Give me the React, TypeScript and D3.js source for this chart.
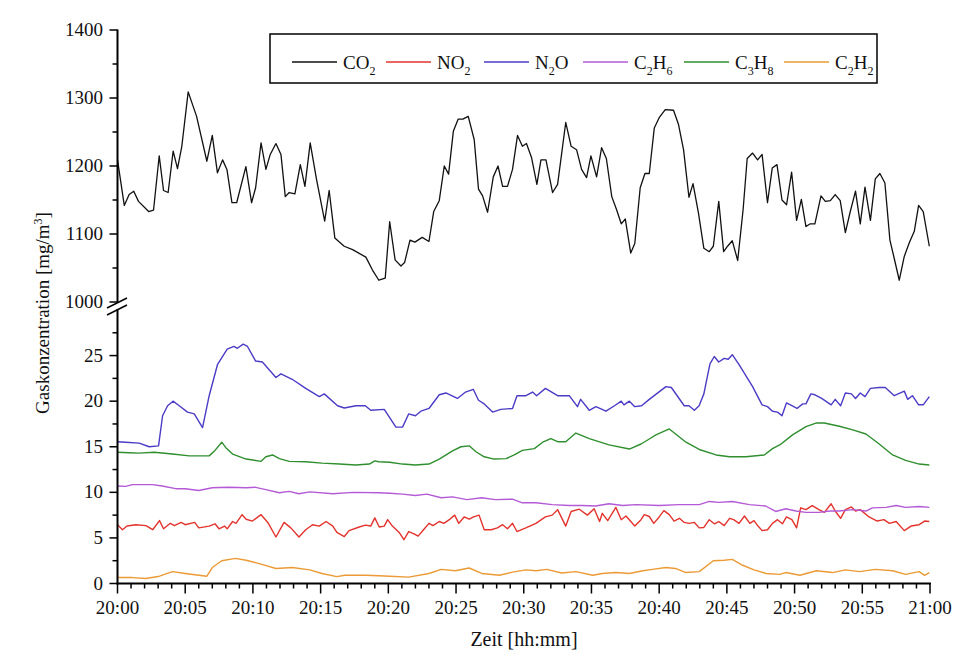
import React from "react";
import * as d3 from "d3";

// ---- Data (minutes after 20:00, concentration in mg/m³) ----
const co2T = [0,0.5,0.86,1.2,1.55,2.3,2.66,3.08,3.4,3.74,4.11,4.43,4.75,5.22,5.84,6.6,7.0,7.38,7.76,8.08,8.45,8.8,9.48,9.9,10.2,10.6,10.96,11.28,11.7,12.07,12.39,12.68,13.1,13.5,13.84,14.23,14.7,15.3,15.63,16.05,16.74,17.36,18.34,18.83,19.3,19.77,20.1,20.5,20.93,21.2,21.6,21.96,22.5,23.0,23.35,23.76,24.13,24.45,24.8,25.16,25.5,25.9,26.34,26.66,26.96,27.33,27.75,28.1,28.44,28.8,29.17,29.54,29.9,30.2,30.58,30.97,31.27,31.64,32.13,32.5,33.1,33.5,33.9,34.27,34.64,34.96,35.38,35.75,36.1,36.5,36.85,37.2,37.5,37.9,38.2,38.6,38.95,39.27,39.64,40.0,40.45,41.06,41.43,41.8,42.2,42.5,42.9,43.3,43.7,44.0,44.4,44.76,45.05,45.4,45.8,46.2,46.5,46.9,47.27,47.6,48.0,48.35,48.7,49.07,49.41,49.78,50.15,50.5,50.84,51.16,51.5,51.95,52.27,52.64,53.0,53.37,53.75,54.1,54.5,54.85,55.2,55.6,55.96,56.3,56.67,57.04,57.36,57.73,58.1,58.47,58.84,59.16,59.5,59.95];
const co2V = [1209,1142,1158,1163,1148,1133,1135,1215,1164,1161,1222,1196,1229,1309,1273,1207,1245,1190,1209,1195,1146,1146,1199,1146,1168,1234,1195,1217,1233,1217,1155,1161,1159,1202,1170,1234,1180,1119,1164,1094,1082,1077,1066,1047,1032,1035,1118,1062,1053,1058,1091,1088,1095,1089,1133,1149,1200,1188,1251,1269,1269,1273,1239,1166,1156,1132,1184,1200,1170,1170,1195,1245,1229,1233,1212,1173,1209,1209,1161,1173,1264,1229,1224,1195,1183,1215,1184,1227,1211,1155,1136,1115,1122,1072,1086,1168,1189,1189,1256,1271,1283,1282,1261,1224,1154,1174,1131,1079,1074,1082,1148,1074,1082,1090,1061,1136,1211,1219,1209,1217,1146,1197,1202,1150,1143,1191,1120,1151,1111,1115,1115,1156,1148,1149,1158,1149,1102,1132,1163,1115,1169,1120,1181,1189,1175,1091,1064,1032,1067,1087,1104,1142,1133,1082];

const no2T = [0,0.37,0.7,1.35,2.1,2.6,3.1,3.4,3.9,4.2,4.7,5.0,5.7,6.0,6.77,7.2,7.5,7.9,8.1,8.5,8.75,9.2,9.5,9.96,10.6,11.1,11.7,12.3,12.8,13.4,13.9,14.4,14.9,15.4,15.9,16.2,16.75,17.1,17.85,18.3,18.7,19.0,19.33,19.7,19.95,20.3,20.8,21.15,21.5,21.9,22.2,22.6,23.0,23.3,23.76,24.1,24.5,24.9,25.2,25.6,25.97,26.3,26.7,27.08,27.6,28.05,28.44,28.8,29.17,29.5,30.15,30.9,31.6,32.1,32.5,32.7,33.1,33.5,34.1,34.7,35.2,35.6,35.8,36.2,36.8,37.2,37.55,38.2,38.66,38.9,39.27,39.6,40.0,40.35,40.75,41.1,41.5,41.85,42.2,42.6,42.96,43.3,43.7,44.07,44.4,44.8,45.2,45.5,45.9,46.3,46.7,47.0,47.3,47.6,48.0,48.37,48.74,49.1,49.4,49.8,50.15,50.45,50.84,51.3,51.8,52.2,52.7,53.0,53.4,53.75,54.2,54.5,54.85,55.5,56.1,56.6,57.0,57.5,58.1,58.6,59.2,59.6,59.95];
const no2V = [6.45,5.9,6.3,6.45,6.35,5.9,6.9,6.0,6.6,6.35,6.7,6.45,6.7,6.1,6.3,6.55,6.0,6.3,6.0,6.8,6.6,7.55,7.05,6.85,7.55,6.7,5.1,6.7,6.1,5.1,5.9,6.45,6.3,6.8,6.3,5.6,5.15,5.8,6.2,6.4,6.3,7.2,6.2,6.3,7.0,6.3,5.6,4.8,5.7,5.45,5.2,5.9,6.6,6.35,6.8,6.6,7.0,7.5,6.6,7.3,7.05,7.3,7.5,5.9,5.9,6.1,6.45,6.0,6.6,5.7,6.1,6.6,7.3,7.5,8.1,7.5,6.3,7.9,8.15,7.5,8.2,6.8,7.7,6.9,8.35,7.0,7.4,6.3,7.0,7.55,7.35,6.6,7.3,8.0,7.55,6.85,7.15,6.7,6.6,6.7,6.1,6.15,7.0,6.55,6.8,6.35,7.15,7.0,6.6,7.4,6.6,6.9,6.3,5.8,5.9,6.6,7.0,6.55,7.3,7.0,6.1,8.3,8.1,8.55,8.1,7.8,8.75,7.95,7.15,8.1,8.4,7.95,8.1,7.3,6.85,7.0,6.6,6.8,5.8,6.3,6.45,6.85,6.8];

const n2oT = [0,0.6,1.6,2.34,3.03,3.33,3.7,4.1,4.56,5.17,5.67,6.28,6.77,7.38,8.1,8.6,8.85,9.28,9.6,10.2,10.7,11.7,12.07,12.9,13.9,14.9,15.27,16.25,16.75,17.6,18.3,18.7,19.7,20.56,21.05,21.5,22.0,22.4,23.0,23.76,24.25,25.1,25.7,26.27,26.66,27.08,27.7,28.3,29.17,29.5,30.16,30.65,30.95,31.6,32.5,33.36,33.97,34.2,34.84,35.33,36.07,36.7,37.2,37.4,37.8,38.2,38.7,39.27,40.5,40.9,41.85,42.2,42.6,42.95,43.3,43.75,44.07,44.4,44.8,45.1,45.4,45.9,46.9,47.6,48.0,48.37,48.74,49.07,49.4,49.8,50.18,50.6,50.84,51.2,51.5,52.0,52.7,53.0,53.4,53.75,54.2,54.5,54.85,55.2,55.6,56.25,56.7,57.36,58.1,58.35,58.7,59.16,59.5,59.95];
const n2oV = [15.55,15.5,15.4,15.0,15.1,18.4,19.5,20.0,19.5,18.8,18.6,17.1,20.6,24.0,25.7,26.0,25.8,26.25,26.0,24.4,24.3,22.6,23.0,22.4,21.4,20.5,20.8,19.5,19.25,19.5,19.5,19.0,19.1,17.15,17.15,18.6,18.4,18.9,19.2,20.7,20.9,20.3,21.0,21.3,20.1,19.7,18.8,19.1,19.2,20.6,20.6,21.0,20.6,21.4,20.6,20.6,19.4,20.2,19.0,19.4,18.9,19.5,20.0,19.6,20.0,19.4,19.5,20.2,21.6,21.5,19.5,19.5,19.0,19.5,20.8,24.1,24.9,24.3,24.7,24.6,25.1,24.0,21.6,19.6,19.4,18.9,18.8,18.4,19.8,19.5,19.2,19.7,19.7,20.8,20.7,20.3,19.6,20.2,19.5,20.9,20.8,20.3,20.9,20.5,21.4,21.5,21.5,20.6,21.1,20.2,20.6,19.6,19.6,20.5];

const c2h6T = [0,0.6,1.1,2.6,3.3,4.3,5.0,6.0,7.0,8.2,9.5,10.2,10.96,11.95,12.68,13.4,14.2,15.9,17.4,19.3,20.1,21.05,22.0,22.85,23.9,24.74,25.8,26.9,27.9,29.17,29.9,30.9,32.1,33.36,34.3,35.3,36.3,37.3,38.3,40.0,41.5,42.96,43.7,44.4,45.4,46.66,47.87,48.6,49.35,50.1,50.84,51.8,52.6,53.3,54.3,55.27,55.75,56.75,57.5,58.2,59.2,59.95];
const c2h6V = [10.7,10.65,10.85,10.85,10.7,10.4,10.4,10.2,10.5,10.55,10.5,10.55,10.3,9.95,10.1,9.85,10.05,9.85,10.0,9.95,9.9,9.8,9.65,9.8,9.4,9.5,9.2,9.4,9.2,9.25,8.85,8.85,8.65,8.55,8.55,8.5,8.75,8.55,8.65,8.55,8.65,8.65,9.0,8.9,9.0,8.65,8.5,7.9,8.2,7.95,7.8,7.8,7.95,7.95,8.1,7.95,8.3,8.35,8.55,8.35,8.45,8.35];

const c3h8T = [0,0.86,1.6,2.7,4.06,5.3,6.0,6.77,7.2,7.7,8.0,8.5,9.5,10.6,10.96,11.45,11.95,12.68,13.9,15.1,16.4,17.6,18.6,19.0,19.3,20.1,21.05,22.0,23.0,23.76,24.74,25.36,25.97,26.47,27.08,27.8,28.7,29.3,29.9,30.78,31.4,32.0,32.5,33.1,33.85,34.84,36.3,37.8,38.66,39.27,39.76,40.75,41.98,42.96,44.2,45.2,46.4,47.76,48.37,49.0,49.85,50.84,51.58,52.2,53.3,54.3,55.27,56.25,57.24,58.2,59.2,59.95];
const c3h8V = [14.4,14.35,14.3,14.4,14.2,14.0,14.0,14.0,14.6,15.5,14.9,14.2,13.65,13.4,13.9,14.1,13.7,13.4,13.35,13.2,13.1,13.0,13.1,13.45,13.35,13.3,13.1,13.0,13.1,13.65,14.55,15.0,15.1,14.45,13.9,13.65,13.7,14.1,14.6,14.8,15.5,15.9,15.55,15.55,16.5,15.9,15.2,14.75,15.3,15.85,16.3,16.95,15.5,14.7,14.1,13.9,13.9,14.1,14.8,15.3,16.3,17.2,17.6,17.6,17.25,16.85,16.4,15.3,14.1,13.5,13.1,13.0];

const c2h2T = [0,1.1,2.1,3.1,4.06,5.0,6.0,6.6,7.0,7.7,8.7,9.5,10.4,11.7,12.9,14.2,15.1,16.2,16.8,18.3,19.3,20.1,21.5,23.0,23.9,24.95,25.97,26.9,28.2,29.17,30.16,30.9,31.7,32.8,33.85,35.1,35.8,36.8,37.8,38.8,39.5,40.5,41.2,41.98,42.96,44.0,44.8,45.4,46.17,47.0,47.9,48.9,49.35,50.4,51.6,52.8,53.75,54.8,55.96,57.24,58.2,59.2,59.6,59.95];
const c2h2V = [0.65,0.65,0.55,0.8,1.3,1.1,0.9,0.8,1.75,2.5,2.75,2.55,2.2,1.65,1.75,1.5,1.1,0.75,0.9,0.9,0.85,0.8,0.7,1.1,1.55,1.4,1.7,1.1,0.9,1.25,1.5,1.4,1.55,1.15,1.3,0.9,1.1,1.2,1.1,1.4,1.55,1.75,1.65,1.2,1.3,2.5,2.55,2.65,2.0,1.5,1.1,1.0,1.2,0.9,1.4,1.2,1.5,1.3,1.55,1.4,1.0,1.3,0.9,1.2];

const xTickMinutes = [0,5,10,15,20,25,30,35,40,45,50,55,60];
const xTickLabels = ["20:00","20:05","20:10","20:15","20:20","20:25","20:30","20:35","20:40","20:45","20:50","20:55","21:00"];
const upperTicks = [1000,1100,1200,1300,1400];
const lowerTicks = [0,5,10,15,20,25];

// legend: [base, subscript] pieces
const legendParts: [string, string][][] = [
  [["CO", "2"]],
  [["NO", "2"]],
  [["N", "2"], ["O", ""]],
  [["C", "2"], ["H", "6"]],
  [["C", "3"], ["H", "8"]],
  [["C", "2"], ["H", "2"]],
];
const legendLineStart = [292, 386, 484, 583, 684, 784];
const colors = ["#111111", "#e3332c", "#4b3cc6", "#b45ad6", "#2f8f2f", "#ec9a35"];

const FONT = "'Liberation Serif', 'Times New Roman', serif";

export default function App() {
  const W = 957, H = 654;
  const x = d3.scaleLinear().domain([0, 60]).range([117.5, 930]);
  const yU = d3.scaleLinear().domain([1000, 1400]).range([302, 30]);
  const yL = d3.scaleLinear().domain([0, 30]).range([583.5, 310]);

  const lower = [
    { t: no2T, v: no2V, c: colors[1] },
    { t: c2h6T, v: c2h6V, c: colors[3] },
    { t: c2h2T, v: c2h2V, c: colors[5] },
    { t: c3h8T, v: c3h8V, c: colors[4] },
    { t: n2oT, v: n2oV, c: colors[2] },
  ];

  const mkLine = (ys: d3.ScaleLinear<number, number>, t: number[], v: number[]) =>
    d3.line<number>().x((_, i) => x(t[i])).y((d) => ys(d))(v) || "";

  const axisX = 117.5;
  const upperMinor = d3.range(1000, 1401, 50);
  const lowerMinor = d3.range(0, 27.6, 2.5);
  const xMinor = d3.range(0, 61, 1);

  return (
    <svg width={W} height={H} style={{ position: "absolute", left: 0, top: 0, background: "#fff" }} fontFamily={FONT}>
      <rect x={0} y={0} width={W} height={H} fill="#fff" />
      {/* data lines */}
      <path d={mkLine(yU, co2T, co2V)} fill="none" stroke={colors[0]} strokeWidth={1.3} strokeLinejoin="round" />
      {lower.map((s, i) => (
        <path key={i} d={mkLine(yL, s.t, s.v)} fill="none" stroke={s.c} strokeWidth={1.4} strokeLinejoin="round" />
      ))}

      {/* Y axis upper */}
      <line x1={axisX} x2={axisX} y1={yU(1400) - 0.5} y2={303} stroke="#000" strokeWidth={2} />
      {upperMinor.map((v) => (
        <line key={"um" + v} x1={axisX} x2={axisX - (v % 100 === 0 ? 8 : 5)} y1={yU(v)} y2={yU(v)} stroke="#000" strokeWidth={1.5} />
      ))}
      {upperTicks.map((v) => (
        <text key={"ul" + v} x={103} y={yU(v) + 6} textAnchor="end" fontSize={19} fill="#111">{v}</text>
      ))}
      {/* Y axis lower */}
      <line x1={axisX} x2={axisX} y1={309} y2={yL(0) + 1} stroke="#000" strokeWidth={2} />
      {lowerMinor.map((v) => (
        <line key={"lm" + v} x1={axisX} x2={axisX - (v % 5 === 0 ? 8 : 5)} y1={yL(v)} y2={yL(v)} stroke="#000" strokeWidth={1.5} />
      ))}
      {lowerTicks.map((v) => (
        <text key={"ll" + v} x={103} y={yL(v) + 6} textAnchor="end" fontSize={19} fill="#111">{v}</text>
      ))}
      {/* break marks */}
      <line x1={107} y1={308} x2={127} y2={298} stroke="#000" strokeWidth={1.5} />
      <line x1={107} y1={315} x2={127} y2={305} stroke="#000" strokeWidth={1.5} />

      {/* X axis */}
      <line x1={axisX - 1} x2={x(60) + 1} y1={yL(0)} y2={yL(0)} stroke="#000" strokeWidth={2} />
      {xMinor.map((m) => (
        <line key={"xm" + m} x1={x(m)} x2={x(m)} y1={yL(0)} y2={yL(0) + (m % 5 === 0 ? 10 : 5)} stroke="#000" strokeWidth={1.5} />
      ))}
      {xTickMinutes.map((m, i) => (
        <text key={"xl" + m} x={x(m)} y={614} textAnchor="middle" fontSize={19} fill="#111">{xTickLabels[i]}</text>
      ))}

      {/* axis titles */}
      <text x={524} y={646} textAnchor="middle" fontSize={20} fill="#111">Zeit [hh:mm]</text>
      <text transform="translate(49,313) rotate(-90)" textAnchor="middle" fontSize={19} fill="#111">
        Gaskonzentration [mg/m<tspan dy={-7} fontSize={12}>3</tspan><tspan dy={7}>]</tspan>
      </text>

      {/* legend */}
      <rect x={270} y={34} width={607} height={49} fill="#fff" stroke="#000" strokeWidth={1.5} />
      {legendParts.map((parts, i) => {
        const lx = legendLineStart[i];
        return (
          <g key={"lg" + i}>
            <line x1={lx} x2={lx + 45} y1={62} y2={62} stroke={colors[i]} strokeWidth={1.5} />
            <text x={lx + 51} y={69} fontSize={19} fill="#111">
              {parts.map(([b, s], j) => (
                <React.Fragment key={j}>
                  <tspan dy={j === 0 ? 0 : -6}>{b}</tspan>
                  {s ? <tspan dy={6} fontSize={12}>{s}</tspan> : <tspan dy={6}></tspan>}
                </React.Fragment>
              ))}
            </text>
          </g>
        );
      })}
    </svg>
  );
}
